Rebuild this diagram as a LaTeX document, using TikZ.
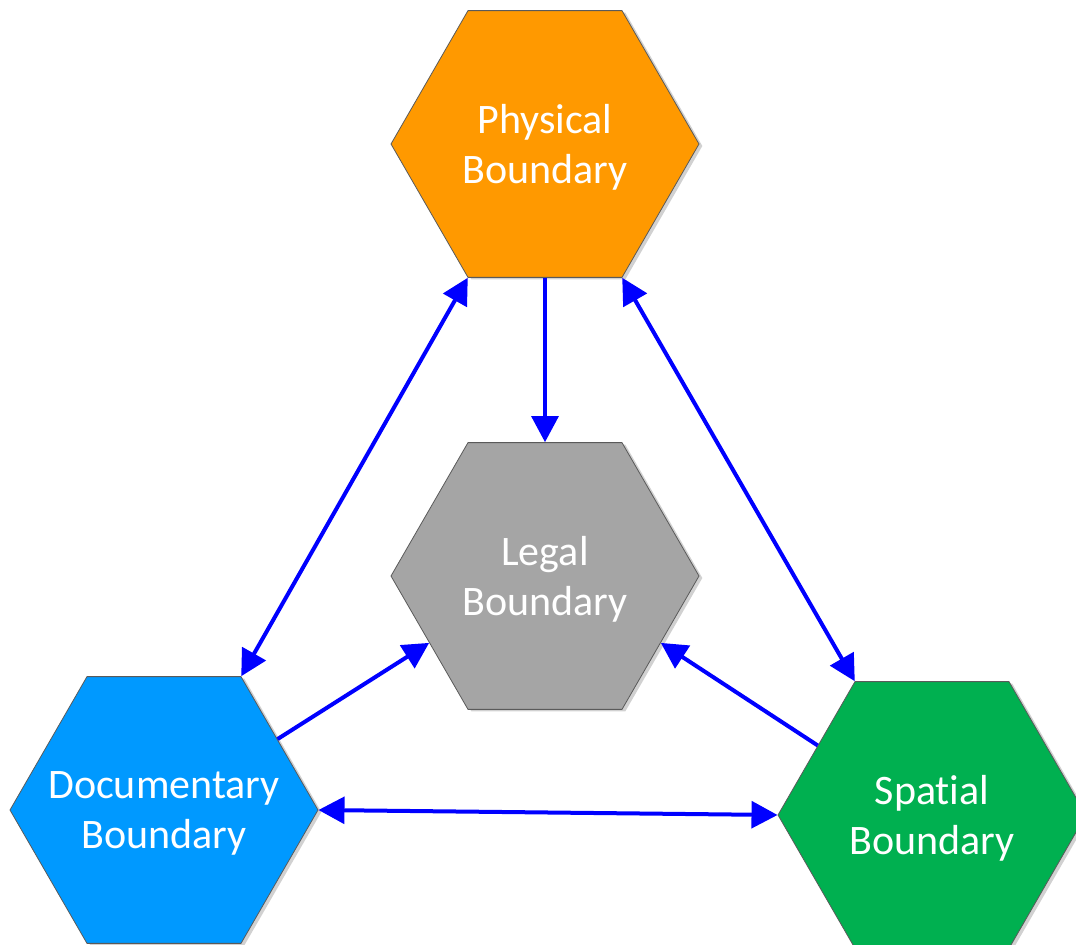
\documentclass[tikz,border=0pt]{standalone}
\usepackage{fontspec}
\setmainfont{Carlito}[Ligatures=NoCommon]
\usetikzlibrary{shapes.geometric,arrows.meta,calc,shadows}
\definecolor{physc}{HTML}{FF9900}
\definecolor{docc}{HTML}{0099FF}
\definecolor{spatc}{HTML}{00B050}
\definecolor{legalc}{HTML}{A5A5A5}
\definecolor{arrc}{HTML}{0000FF}
\definecolor{edgec}{HTML}{5A5A5A}
\tikzset{
  hexbox/.style={regular polygon, regular polygon sides=6,
    minimum size=231pt, inner sep=0pt, draw=edgec, line width=0.6pt,
    drop shadow={shadow xshift=2.5pt, shadow yshift=-1.5pt, fill=black!18, opacity=1}},
  hextext/.style={text=white, align=center, inner sep=0pt, yshift=-2.5pt,
    font=\fontsize{31.5}{38}\selectfont},
  link/.style={draw=arrc, line width=3pt,
    arrows={-{Triangle[length=19.5pt,width=20pt]}}},
  dlink/.style={draw=arrc, line width=3pt,
    arrows={{Triangle[length=19.5pt,width=20pt]}-{Triangle[length=19.5pt,width=20pt]}}}
}
\begin{document}
\begin{tikzpicture}[x=0.75pt,y=-0.75pt]
\useasboundingbox (0,0) rectangle (1076,945);
\node[hexbox, fill=physc, label={[hextext]center:Physical\\Boundary}] (phys) at (545,144) {};
\node[hexbox, fill=legalc, label={[hextext]center:Legal\\Boundary}] (legal) at (545,576) {};
\node[hexbox, fill=docc, label={[hextext]center:Documentary\\Boundary}] (doc) at (164,810) {};
\node[hexbox, fill=spatc, label={[hextext]center:Spatial\\Boundary}] (spat) at (932,815) {};
\draw[link] (phys.south) -- (legal.north);
\draw[dlink] (phys.240) -- (doc.60);
\draw[dlink] (phys.300) -- (spat.120);
\draw[dlink] (doc.0) -- (spat.180);
\draw[link] ($(doc.60)!0.47!(doc.0)$) -- ($(legal.180)!0.5!(legal.240)$);
\draw[link] ($(spat.120)!0.48!(spat.180)$) -- ($(legal.0)!0.5!(legal.300)$);
\end{tikzpicture}
\end{document}
